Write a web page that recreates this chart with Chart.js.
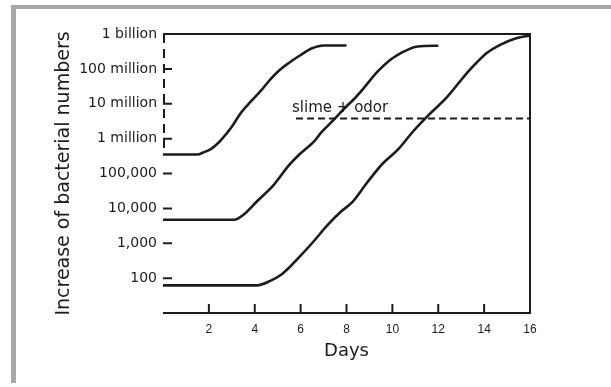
<!DOCTYPE html>
<html>
<head>
<meta charset="utf-8">
<script src="https://cdn.jsdelivr.net/npm/chart.js@4/dist/chart.umd.min.js"></script>
<style>
  body { margin: 0; background: #fff; }
  #wrap { position: relative; width: 611px; height: 387px; }
  #frame {
    position: absolute; left: 11px; top: 5px; width: 600px; height: 378px;
    border-left: 5px solid #a8a8a8; border-top: 4px solid #a8a8a8;
    box-sizing: border-box; pointer-events: none;
  }
</style>
</head>
<body>
<div id="wrap">
  <canvas id="myChart" width="611" height="387"></canvas>
  <div id="frame"></div>
</div>
<script>
// days on the x axis, bacteria counts on the y axis (log scale)
const days1 = [0, 1.5, 1.75, 2.1, 2.45, 2.75, 3.0, 3.4, 3.85, 4.3, 4.7, 5.1, 5.5, 6.0, 6.5, 7.0, 8.0]
const counts1 = [350000, 350000, 400000, 510000, 800000, 1350000, 2200000, 5500000, 12000000, 25000000,
    52000000, 95000000, 150000000, 250000000, 390000000, 470000000, 470000000]

const days2 = [0, 3.1, 3.5, 4.1, 4.85, 5.45, 6.0, 6.6, 6.9, 7.45, 8.0, 8.3, 8.75, 9.35, 9.9, 10.35, 11.1, 12.0]
const counts2 = [4700, 4700, 6500, 16000, 49000, 160000, 380000, 850000, 1500000, 3500000, 8500000,
    13000000, 28000000, 83000000, 180000000, 280000000, 440000000, 460000000]

const days3 = [0, 4.1, 4.7, 5.15, 5.5, 6.0, 6.6, 7.15, 7.75, 8.25, 8.9, 9.6, 10.25, 10.9, 11.5, 12.4,
    13.25, 14.1, 14.7, 15.4, 16]
const counts3 = [62, 62, 85, 125, 200, 440, 1200, 3200, 8000, 15000, 55000, 200000, 490000, 1600000,
    4200000, 16000000, 76000000, 280000000, 490000000, 760000000, 900000000]

const slimeDays = [5.8, 16]
const slimeLevel = 3750000
const slimeLabel = 'slime + odor'

const xTickValues = [2, 4, 6, 8, 10, 12, 14, 16]
const yTickValues = [100, 1000, 10000, 100000, 1000000, 10000000, 100000000, 1000000000]
const yTickLabels = ['100', '1,000', '10,000', '100,000', '1 million', '10 million', '100 million', '1 billion']

function points(xs, ys) {
    return xs.map((x, i) => ({ x: x, y: ys[i] }))
}

const ink = '#1c1c1c'

function curve(xs, ys) {
    return {
        data: points(xs, ys),
        borderColor: ink,
        borderWidth: 2.6,
        pointRadius: 0,
        cubicInterpolationMode: 'monotone',
        fill: false,
    }
}

// frame, inward tick marks and the slime label
const framePlugin = {
    id: 'frame',
    afterDraw(chart) {
        const ctx = chart.ctx
        const a = chart.chartArea
        const xs = chart.scales.x
        const ys = chart.scales.y
        ctx.save()
        ctx.strokeStyle = ink
        ctx.lineWidth = 2
        ctx.beginPath()
        ctx.moveTo(a.left, a.top); ctx.lineTo(a.right, a.top)
        ctx.lineTo(a.right, a.bottom); ctx.lineTo(a.left, a.bottom)
        ctx.stroke()
        // broken left axis, only down to the first curve
        ctx.setLineDash([9, 6])
        ctx.beginPath()
        ctx.moveTo(a.left + 1, a.top)
        ctx.lineTo(a.left + 1, ys.getPixelForValue(counts1[0]))
        ctx.stroke()
        ctx.setLineDash([])
        ctx.beginPath()
        yTickValues.forEach(v => {
            const py = ys.getPixelForValue(v)
            ctx.moveTo(a.left, py); ctx.lineTo(a.left + 9, py)
        })
        xTickValues.forEach(v => {
            const px = xs.getPixelForValue(v)
            ctx.moveTo(px, a.bottom); ctx.lineTo(px, a.bottom - 9)
        })
        ctx.stroke()
        ctx.fillStyle = ink
        ctx.font = '15px "DejaVu Sans"'
        ctx.textBaseline = 'bottom'
        ctx.fillText(slimeLabel, xs.getPixelForValue(slimeDays[0]) - 4, ys.getPixelForValue(slimeLevel) - 3)
        ctx.restore()
    },
}

function render_chart() {
    const data = {
        datasets: [
            curve(days1, counts1),
            curve(days2, counts2),
            curve(days3, counts3),
            {
                data: points(slimeDays, slimeDays.map(() => slimeLevel)),
                borderColor: ink,
                borderWidth: 2,
                borderDash: [7, 4],
                pointRadius: 0,
            },
        ],
    }
    const config = {
        type: 'line',
        data: data,
        plugins: [framePlugin],
        options: {
            responsive: false,
            animation: false,
            layout: { padding: { top: 34, right: 81, left: 0, bottom: 0 } },
            plugins: { legend: { display: false }, tooltip: { enabled: false } },
            scales: {
                x: {
                    type: 'linear',
                    min: 0,
                    max: 16,
                    afterFit: s => { s.height = 74 },
                    afterBuildTicks: s => { s.ticks = xTickValues.map(v => ({ value: v })) },
                    grid: { display: false, drawTicks: false, tickLength: 0 },
                    border: { display: false },
                    ticks: {
                        padding: 9,
                        color: ink,
                        font: { family: 'Liberation Sans', size: 12 },
                        maxRotation: 0,
                    },
                    title: {
                        display: true,
                        text: 'Days',
                        color: ink,
                        font: { family: 'DejaVu Sans', size: 18 },
                        padding: { top: 0, bottom: 25 },
                    },
                },
                y: {
                    type: 'logarithmic',
                    min: 10,
                    max: 1000000000,
                    afterFit: s => { s.width = 163 },
                    afterBuildTicks: s => { s.ticks = yTickValues.map(v => ({ value: v })) },
                    grid: { display: false, drawTicks: false, tickLength: 0 },
                    border: { display: false },
                    ticks: {
                        padding: 6,
                        color: ink,
                        font: { family: 'DejaVu Sans', size: 14 },
                        callback: (v) => yTickLabels[yTickValues.indexOf(v)],
                    },
                    title: {
                        display: true,
                        text: 'Increase of bacterial numbers',
                        color: ink,
                        font: { family: 'DejaVu Sans', size: 19 },
                        padding: { top: 53, bottom: 0 },
                    },
                },
            },
        },
    }
    const myChart = new Chart(document.getElementById('myChart'), config)
}
document.addEventListener('DOMContentLoaded', render_chart)
</script>
</body>
</html>
